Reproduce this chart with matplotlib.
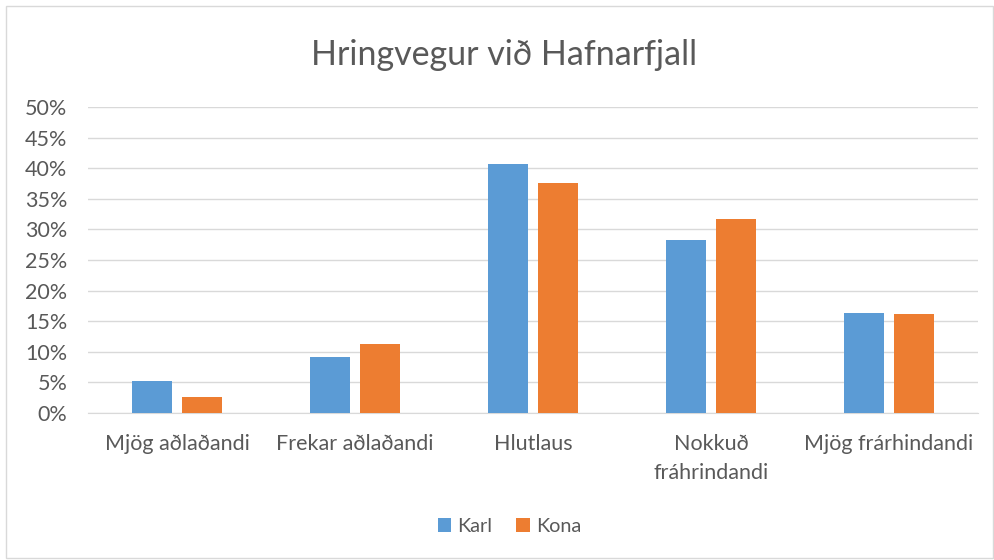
import matplotlib.pyplot as plt
import numpy as np
from matplotlib.patches import Rectangle
from matplotlib.ticker import PercentFormatter

# Svör eftir kyni
flokkar = ["Mjög aðlaðandi", "Frekar aðlaðandi", "Hlutlaus", "Nokkuð\nfráhrindandi", "Mjög frárhindandi"]
karl = [5.2, 9.1, 40.7, 28.2, 16.3]
kona = [2.6, 11.3, 37.6, 31.7, 16.2]

BLAR = "#5B9BD5"
APPELSINA = "#ED7D31"
TEXTI = "#595959"
GRIND = "#D9D9D9"

plt.rcParams["font.family"] = ["Lato", "DejaVu Sans"]

fig = plt.figure(figsize=(9.95, 5.6), dpi=100)
ax = fig.add_axes([88 / 995, 1 - 413 / 560, 890 / 995, 306 / 560])

x = np.arange(len(flokkar))
breidd = 0.225
hlidrun = 0.143
ax.bar(x - hlidrun, karl, breidd, color=BLAR, label="Karl", zorder=3)
ax.bar(x + hlidrun, kona, breidd, color=APPELSINA, label="Kona", zorder=3)

ax.set_xlim(-0.5, len(flokkar) - 0.5)
ax.set_ylim(0, 50)
ax.set_yticks(np.arange(0, 51, 5))
ax.yaxis.set_major_formatter(PercentFormatter(decimals=0))
ax.grid(axis="y", color=GRIND, linewidth=1.0, zorder=0)
ax.set_xticks(x)
ax.set_xticklabels(flokkar, va="top", linespacing=1.6)
ax.tick_params(axis="both", length=0, labelsize=15.5, colors=TEXTI)
ax.tick_params(axis="x", pad=15)
ax.tick_params(axis="y", pad=15)
for s in ["top", "right", "left"]:
    ax.spines[s].set_visible(False)
ax.spines["bottom"].set_color(GRIND)

fig.text(0.507, 1 - 55 / 560, "Hringvegur við Hafnarfjall", ha="center", va="center",
         fontsize=24.5, color=TEXTI)

fig.legend(loc="center", bbox_to_anchor=(0.512, 1 - 526 / 560), ncol=2, frameon=False,
           fontsize=14.3, labelcolor=TEXTI, handlelength=0.7, handleheight=0.7,
           handletextpad=0.3, columnspacing=1.2)

# Rammi utan um myndina
fig.patches.append(Rectangle((6 / 995, 2 / 560), 987 / 995, 552 / 560, transform=fig.transFigure,
                             fill=False, edgecolor=GRIND, linewidth=1.0))

fig.savefig("out.png", dpi=100)
